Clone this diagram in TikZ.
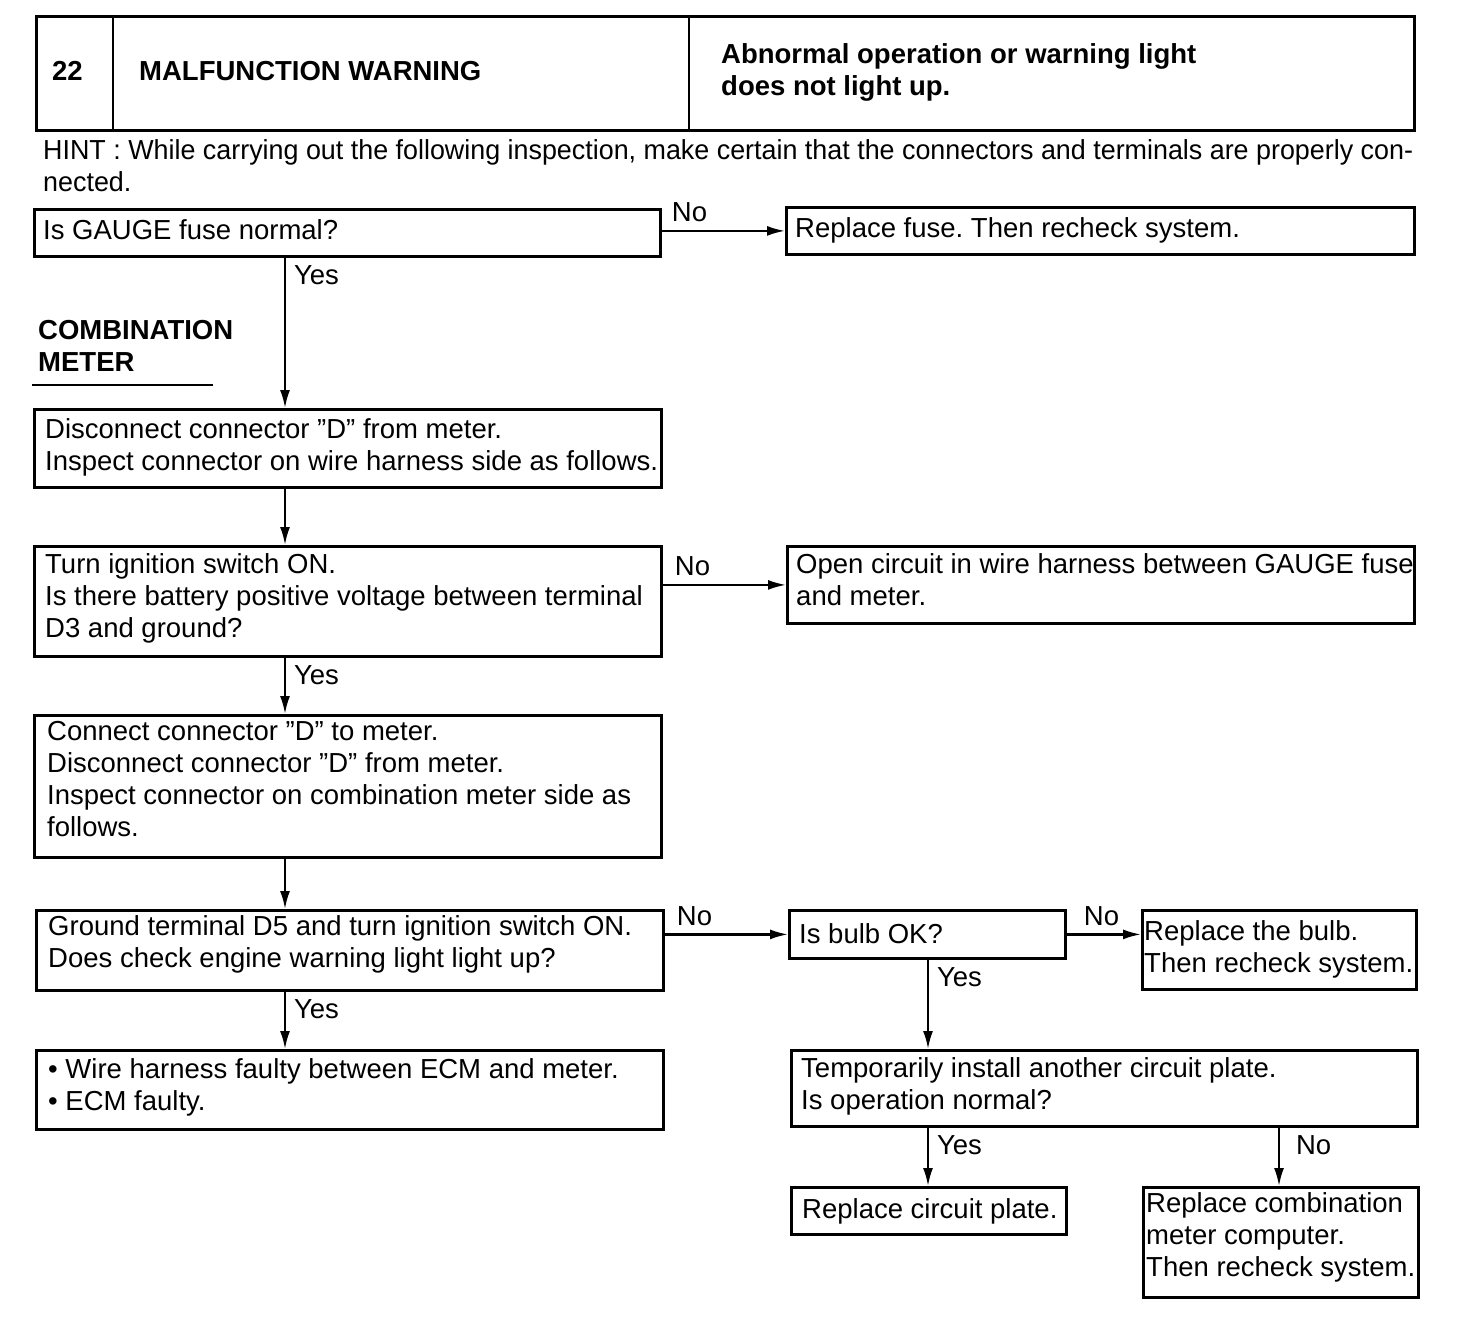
\documentclass[tikz,border=0pt]{standalone}
\usepackage{graphicx}
\usepackage{fontspec}
\setmainfont{Liberation Sans}
\usetikzlibrary{arrows.meta}
\newcommand\tl[1]{\begin{tabular}[t]{@{}l@{}}#1\end{tabular}}
\newlength\hintw
\tikzset{
 box/.style={draw, line width=2.8pt, anchor=north west, inner sep=0pt},
 hbox/.style={draw, line width=3.2pt, anchor=north west, inner sep=0pt},
 txt/.style={anchor=base west, inner sep=0pt, font=\fontsize{27.5pt}{32pt}\selectfont},
 btxt/.style={anchor=base west, inner sep=0pt, font=\fontsize{27.5pt}{32pt}\selectfont\bfseries},
 arr/.style={line width=2.2pt, -{Latex[length=18pt,width=10pt]}},
 yes/.style={anchor=base west, inner sep=0pt, font=\fontsize{27.5pt}{32pt}\selectfont, xshift=8pt, yshift=-27pt},
 no/.style={anchor=base west, inner sep=0pt, font=\fontsize{27.5pt}{32pt}\selectfont, xshift=11pt, yshift=9pt},
}
\begin{document}
\frenchspacing
\settowidth{\hintw}{\fontsize{27.5pt}{32pt}\selectfont HINT : While carrying out the following inspection, make certain that the connectors and terminals are properly con-}%
\pgfmathsetmacro\hs{1370/\hintw}%
\begin{tikzpicture}[x=1pt,y=-1pt]
\useasboundingbox (0,0) rectangle (1472,1334);

% header
\node[hbox, minimum width=1378pt, minimum height=114pt] (hdr) at (35,15) {};
\draw[line width=2.2pt] ([xshift=78pt]hdr.north west) -- ([xshift=78pt]hdr.south west);
\draw[line width=2.2pt] ([xshift=654pt]hdr.north west) -- ([xshift=654pt]hdr.south west);
\node[btxt] (hnum) at (52,80) {22};
\node[btxt] (htitle) at (139,80) {MALFUNCTION WARNING};
\node[btxt] (hsym) at (721,63) {\tl{Abnormal operation or warning light\\does not light up.}};

% hint
\node[txt] (hint) at (43,159) {\tl{\scalebox{\hs}[1]{HINT : While carrying out the following inspection, make certain that the connectors and terminals are properly con-}\\\scalebox{\hs}[1]{nected.}}};

% column coordinates
\coordinate (colA) at (285,0);
\coordinate (colB) at (928,0);
\coordinate (colC) at (1279,0);

% boxes
\node[box, minimum width=626pt, minimum height=47pt] (b1) at (33,208) {};
\node[txt] (t1) at (43,239) {Is GAUGE fuse normal?};
\node[box, minimum width=628pt, minimum height=47pt] (b2) at (785,206) {};
\node[txt] (t2) at (795,237) {Replace fuse. Then recheck system.};

\node[btxt] (sec) at (38,339) {\tl{COMBINATION\\METER}};
\draw[line width=2.2pt] (32,385) -- (213,385);

\node[box, minimum width=627pt, minimum height=78pt] (b3) at (33,408) {};
\node[txt] (t3) at (45,438) {\tl{Disconnect connector "D" from meter.\\Inspect connector on wire harness side as follows.}};

\node[box, minimum width=627pt, minimum height=110pt] (b4) at (33,545) {};
\node[txt] (t4) at (45,573) {\tl{Turn ignition switch ON.\\Is there battery positive voltage between terminal\\D3 and ground?}};
\node[box, minimum width=627pt, minimum height=77pt] (b5) at (786,545) {};
\node[txt] (t5) at (796,573) {\tl{Open circuit in wire harness between GAUGE fuse\\and meter.}};

\node[box, minimum width=627pt, minimum height=142pt] (b6) at (33,714) {};
\node[txt] (t6) at (47,740) {\tl{Connect connector "D" to meter.\\Disconnect connector "D" from meter.\\Inspect connector on combination meter side as\\follows.}};

\node[box, minimum width=627pt, minimum height=80pt] (b7) at (35,909) {};
\node[txt] (t7) at (48,935) {\tl{Ground terminal D5 and turn ignition switch ON.\\Does check engine warning light light up?}};
\node[box, minimum width=276pt, minimum height=48pt] (b8) at (788,909) {};
\node[txt] (t8) at (799,943) {Is bulb OK?};
\node[box, minimum width=274pt, minimum height=79pt] (b9) at (1141,909) {};
\node[txt] (t9) at (1144,940) {\tl{Replace the bulb.\\Then recheck system.}};

\node[box, minimum width=627pt, minimum height=79pt] (b13) at (35,1049) {};
\node[txt] (t13) at (48,1078) {\tl{\textbullet\ Wire harness faulty between ECM and meter.\\\textbullet\ ECM faulty.}};
\node[box, minimum width=626pt, minimum height=76pt] (b10) at (790,1049) {};
\node[txt] (t10) at (801,1077) {\tl{Temporarily install another circuit plate.\\Is operation normal?}};

\node[box, minimum width=275pt, minimum height=47pt] (b11) at (790,1186) {};
\node[txt] (t11) at (802,1218) {Replace circuit plate.};
\node[box, minimum width=275pt, minimum height=110pt] (b12) at (1142,1186) {};
\node[txt] (t12) at (1146,1212) {\tl{Replace combination\\meter computer.\\Then recheck system.}};

% connectors
\draw[arr] (b1.east |- b2.west) -- node[no, at start, xshift=-2pt] (n1) {No} (b2.west);
\draw[arr] (b1.south -| colA) -- node[yes, at start] (y1) {Yes} (b3.north -| colA);
\draw[arr] (b3.south -| colA) -- (b4.north -| colA);
\draw[arr] (b4.east |- b5.west) -- node[no, at start] (n2) {No} (b5.west);
\draw[arr] (b4.south -| colA) -- node[yes, at start] (y2) {Yes} (b6.north -| colA);
\draw[arr] (b6.south -| colA) -- (b7.north -| colA);
\draw[arr] (b7.east |- b8.west) -- node[no, at start] (n3) {No} (b8.west);
\draw[arr] (b8.east) -- node[no, at start, xshift=5pt] (n4) {No} (b8.east -| b9.west);
\draw[arr] (b7.south -| colA) -- node[yes, at start] (y3) {Yes} (b13.north -| colA);
\draw[arr] (b8.south -| colB) -- node[yes, at start] (y4) {Yes} (b10.north -| colB);
\draw[arr] (b10.south -| colB) -- node[yes, at start] (y5) {Yes} (b11.north -| colB);
\draw[arr] (b10.south -| colC) -- node[yes, at start, xshift=8pt] (n5) {No} (b12.north -| colC);
\end{tikzpicture}
\end{document}
